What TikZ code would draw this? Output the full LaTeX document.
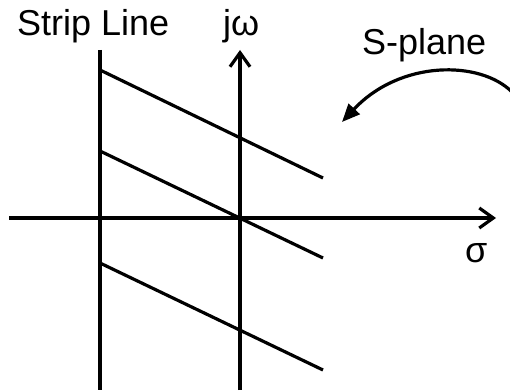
\documentclass[tikz,border=0pt]{standalone}
\usepackage{fontspec}
\setmainfont{Liberation Sans}
\usetikzlibrary{arrows.meta}

\begin{document}
\begin{tikzpicture}[
    x=1pt, y=-1pt,
    axis/.style={line width=3.2pt, -{Straight Barb[length=14pt, width=20pt, line width=3.2pt]}},
    stripline/.style={line width=3.2pt},
    pole/.style={line width=3.2pt},
    bendarrow/.style={line width=3.2pt, -{Triangle[length=18pt, width=15pt]}},
    lbl/.style={inner sep=0pt, anchor=base west, font=\fontsize{36}{42}\selectfont}
]

% fix the picture size to the reference
\useasboundingbox (0,0) rectangle (510,390);

% Labels
\node[lbl] (strip) at (17,36) {Strip Line};
\node[lbl] (jw) at (223,36) {jω};
\node[lbl] (splane) at (362,55) {S-plane};
\node[lbl] (sigma) at (465,262) {σ};

% Axes
\coordinate (sigL) at (9,218);
\coordinate (sigR) at (496,218);
\coordinate (jwB) at (240,390);
\coordinate (jwT) at (240,50);
\draw[axis] (sigL) -- (sigR);
\draw[axis] (jwB) -- (jwT);

% Strip line
\coordinate (stripT) at (100,50);
\coordinate (stripB) at (100,390);
\draw[stripline] (stripT) -- (stripB);

% Lines across the strip
\coordinate (a1) at (100,70);
\coordinate (b1) at (323,178);
\coordinate (a2) at (100,151);
\coordinate (b2) at (323,258);
\coordinate (a3) at (100,263);
\coordinate (b3) at (323,370);
\draw[pole] (a1) -- (b1);
\draw[pole] (a2) -- (b2);
\draw[pole] (a3) -- (b3);

% Curved arrow to the S-plane
\coordinate (bendS) at (512,92);
\coordinate (bendE) at (342,122);
\draw[bendarrow] (bendS) .. controls (480,60) and (400,60) .. (bendE);

\end{tikzpicture}
\end{document}
